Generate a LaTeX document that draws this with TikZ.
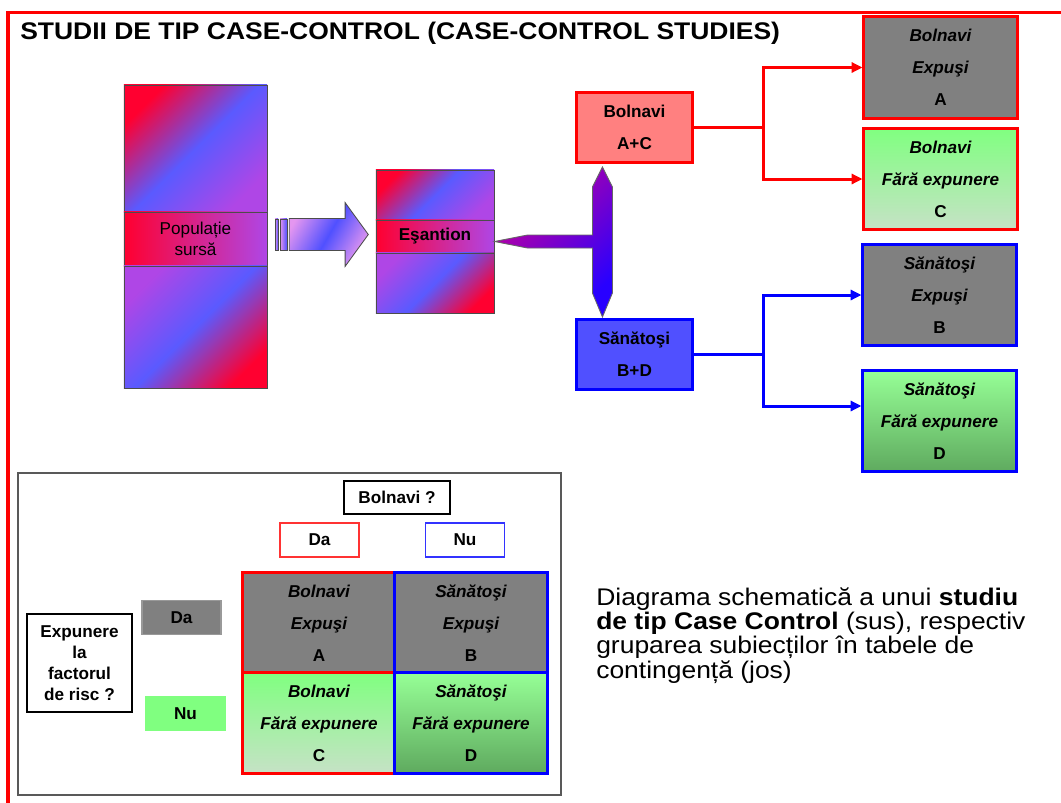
\documentclass[tikz,border=0pt]{standalone}
\usepackage{fontspec}
\setmainfont{Liberation Sans}
\newfontfamily\widefont{Liberation Sans}[FakeStretch=1.1]
\usetikzlibrary{shapes.arrows,arrows.meta,positioning,calc}

\definecolor{popred}{RGB}{255,0,48}
\definecolor{popblue}{RGB}{90,90,255}
\definecolor{popviolet}{RGB}{175,70,230}
\definecolor{flowpink}{RGB}{228,150,240}
\definecolor{flowblue}{RGB}{80,80,255}
\definecolor{splitmag}{RGB}{205,0,150}
\definecolor{splitblue}{RGB}{40,0,255}
\definecolor{acfill}{RGB}{255,128,128}
\definecolor{bdfill}{RGB}{80,80,255}
\definecolor{cellgray}{RGB}{128,128,128}
\definecolor{greentop}{RGB}{128,255,128}
\definecolor{greenpale}{RGB}{198,226,198}
\definecolor{greenlight}{RGB}{150,255,150}
\definecolor{greendark}{RGB}{95,170,95}

\begin{document}
\begin{tikzpicture}[x=0.025cm, y=-0.025cm,
    txt/.style={font=\fontsize{12.2}{22.8}\selectfont\bfseries, align=center, inner sep=0pt},
    popbox/.style={draw=black!70, line width=0.6pt, minimum width=3.575cm, inner sep=0pt},
    sambox/.style={draw=black!70, line width=0.6pt, minimum width=2.95cm, inner sep=0pt},
    grpbox/.style={txt, line width=0.075cm, minimum width=2.875cm, minimum height=1.725cm},
    outbox/.style={txt, line width=0.075cm, minimum width=3.825cm, minimum height=2.525cm},
    cellbox/.style={txt, line width=0.075cm, minimum width=3.8cm, minimum height=2.5cm},
    tagbox/.style={txt, line width=0.035cm, minimum width=1.975cm, minimum height=0.85cm},
    graycell/.style={fill=cellgray},
    palecell/.style={top color=greentop, bottom color=greenpale},
    darkcell/.style={top color=greenlight, bottom color=greendark},
    redlink/.style={draw=red, line width=0.075cm},
    bluelink/.style={draw=blue, line width=0.075cm},
    arrowend/.style={-{Triangle[length=2.7mm, width=2.5mm]}}
]
\useasboundingbox (0,0) rectangle (1061,803);

% frame and title
\draw[red, line width=0.075cm] (8,803) -- (8,12) -- (1061,12);
\node[anchor=base west, inner sep=0pt, font=\widefont\fontsize{17.1}{18}\selectfont\bfseries] (title) at (20,39)
    {STUDII DE TIP CASE-CONTROL (CASE-CONTROL STUDIES)};

% source population
\node[popbox, minimum height=3.175cm, top color=popred, bottom color=popviolet, middle color=popblue, shading angle=45] (poptop) at (195.5,148.5) {};
\node[popbox, minimum height=1.35cm, left color=popred, right color=popviolet, font=\fontsize{12.2}{14.9}\selectfont, align=center] (popmid) at (195.5,239) {Populație\\sursă};
\node[popbox, minimum height=3.05cm, top color=popviolet, bottom color=popred, middle color=popblue, shading angle=45] (popbot) at (195.5,327) {};

% flow arrow
\node[draw=black!70, line width=0.6pt, minimum width=0.075cm, minimum height=0.775cm, inner sep=0pt, left color=flowpink, right color=flowblue] (bar1) at (276.5,234.5) {};
\node[draw=black!70, line width=0.6pt, minimum width=0.175cm, minimum height=0.775cm, inner sep=0pt, left color=flowpink, right color=flowblue] (bar2) at (283.5,234.5) {};
\node[single arrow, draw=black!70, line width=0.6pt, inner xsep=0pt, inner ysep=0.3875cm, minimum height=1.975cm, minimum width=1.575cm,
      single arrow head extend=0.4cm, single arrow tip angle=108,
      left color=flowpink, right color=flowpink, middle color=flowblue, shading angle=60] (flow) at (323,234.5) {};

% sample
\node[sambox, minimum height=1.25cm, top color=popred, bottom color=popviolet, middle color=popblue, shading angle=45] (estop) at (435,195) {};
\node[sambox, minimum height=0.825cm, left color=popred, right color=popviolet, txt] (esmid) at (435,236.5) {Eşantion};
\node[sambox, minimum height=1.5cm, top color=popviolet, bottom color=popred, middle color=popblue, shading angle=45] (esbot) at (435,283) {};

% cases and controls
\node[grpbox, draw=red, fill=acfill] (ac) at (634.5,127.5) {Bolnavi\\A+C};
\node[grpbox, draw=blue, fill=bdfill] (bd) at (634.5,354.5) {Sănătoşi\\B+D};

% split arrow
\coordinate (fork) at (602,241.5);
\shade[draw=black!60, line width=0.6pt, top color=splitmag, bottom color=splitblue, shading angle=45]
    (esmid.east |- fork) -- ++(33,-6.5) -- ++(65,0) -- ++(0,-48) -- ++(10,-20) -- ++(10,20)
    -- ++(0,106) -- ++(-10,24) -- ++(-10,-24) -- ++(0,-45) -- ++(-65,0) -- cycle;

% exposure groups
\node[outbox, draw=red, graycell] (bexp) at (940.5,67.5) {\itshape Bolnavi\\\itshape Expuşi\\A};
\node[outbox, draw=red, palecell] (bfara) at (940.5,179) {\itshape Bolnavi\\\itshape Fără expunere\\C};
\node[outbox, draw=blue, graycell] (sexp) at (939.5,295) {\itshape Sănătoşi\\\itshape Expuşi\\B};
\node[outbox, draw=blue, darkcell] (sfara) at (939.5,421) {\itshape Sănătoşi\\\itshape Fără expunere\\D};

\coordinate (redfork) at (763,127.5);
\coordinate (bluefork) at (763,354.5);
\draw[redlink] (ac.east) -- (redfork);
\draw[redlink, arrowend] (redfork) |- (bexp.west);
\draw[redlink, arrowend] (redfork) |- (bfara.west);
\draw[bluelink] (bd.east) -- (bluefork);
\draw[bluelink, arrowend] (bluefork) |- (sexp.west);
\draw[bluelink, arrowend] (bluefork) |- ([yshift=0.375cm]sfara.west);

% contingency table
\node[draw=black!65, line width=0.05cm, fill=white, minimum width=13.575cm, minimum height=8.05cm] (panel) at (289.5,634) {};
\node[tagbox, draw=black, minimum width=2.65cm, minimum height=0.825cm] (sick) at (397,497.5) {Bolnavi ?};
\node[tagbox, draw=red!80] (sickyes) at (319.5,540) {Da};
\node[tagbox, draw=blue!80] (sickno) at (465,540) {Nu};

\node[cellbox, draw=red, graycell] (cella) at (319,623) {\itshape Bolnavi\\\itshape Expuşi\\A};
\node[cellbox, draw=red, palecell] (cellc) at (319,723) {\itshape Bolnavi\\\itshape Fără expunere\\C};
\node[cellbox, draw=blue, graycell] (cellb) at (471,623) {\itshape Sănătoşi\\\itshape Expuşi\\B};
\node[cellbox, draw=blue, darkcell] (celld) at (471,723) {\itshape Sănătoşi\\\itshape Fără expunere\\D};

\node[txt, draw=black, line width=0.03cm, minimum width=2.625cm, minimum height=2.45cm, font=\fontsize{12.2}{14.9}\selectfont\bfseries] (expo) at (79.5,663) {Expunere\\la\\factorul\\de risc ?};
\node[tagbox, fill=cellgray, draw=gray!80] (expyes) at (181.5,617.5) {Da};
\node[tagbox, fill=greentop, draw=greentop] (expno) at (185.5,713.5) {Nu};

% caption
\node[anchor=north west, align=left, inner sep=0pt, font=\widefont\fontsize{17.1}{17.4}\selectfont] (note) at (596,587)
    {Diagrama schematică a unui \textbf{studiu}\\
     \textbf{de tip Case Control} (sus), respectiv\\
     gruparea subiecților în tabele de\\
     contingență (jos)};

\end{tikzpicture}
\end{document}
